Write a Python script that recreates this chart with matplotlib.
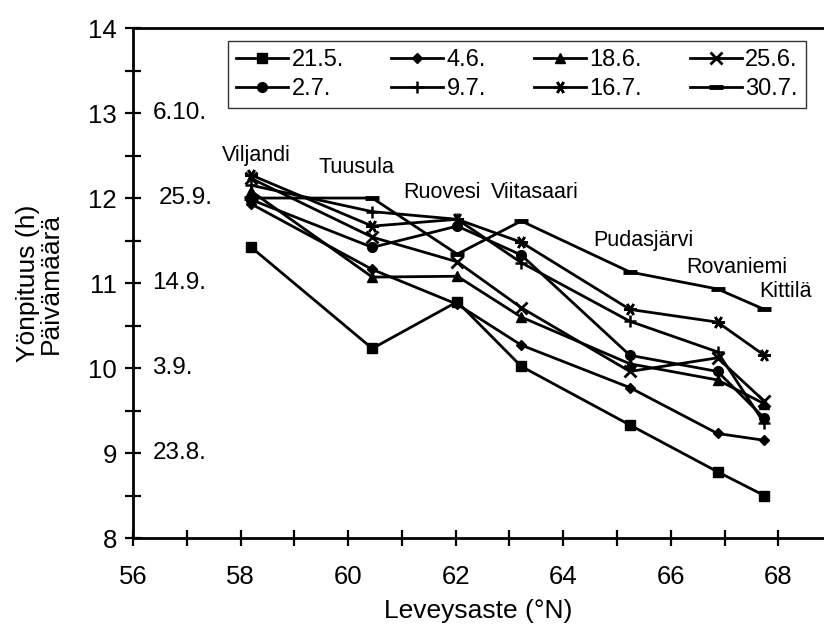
import numpy as np
import matplotlib.pyplot as plt
from matplotlib.ticker import MultipleLocator

plt.rcParams['font.family'] = ['Liberation Sans', 'DejaVu Sans']

# leveysasteet (asemat)
lat = [58.2, 60.45, 62.03, 63.22, 65.24, 66.87, 67.74]
stations = ['Viljandi', 'Tuusula', 'Ruovesi', 'Viitasaari', 'Pudasjärvi', 'Rovaniemi', 'Kittilä']

# yönpituus (h) eri päivinä
d21_5 = [11.42, 10.23, 10.78, 10.02, 9.33, 8.78, 8.50]
d4_6 = [11.93, 11.16, 10.75, 10.27, 9.77, 9.23, 9.15]
d18_6 = [12.08, 11.07, 11.08, 10.60, 10.05, 9.86, 9.58]
d25_6 = [12.23, 11.54, 11.25, 10.71, 9.96, 10.12, 9.61]
d2_7 = [11.98, 11.42, 11.67, 11.33, 10.15, 9.96, 9.41]
d9_7 = [12.15, 11.84, 11.75, 11.24, 10.55, 10.19, 9.35]
d16_7 = [12.27, 11.67, 11.75, 11.48, 10.69, 10.54, 10.15]
d30_7 = [12.00, 12.00, 11.34, 11.73, 11.13, 10.93, 10.69]

date_ticks = [13, 12, 11, 10, 9]
date_labels = ['6.10.', '25.9.', '14.9.', '3.9.', '23.8.']

series = [
    ('21.5.', d21_5, dict(marker='s', ms=7)),
    ('4.6.', d4_6, dict(marker='D', ms=5)),
    ('18.6.', d18_6, dict(marker='^', ms=7)),
    ('25.6.', d25_6, dict(marker='x', ms=8, mew=2)),
    ('2.7.', d2_7, dict(marker='o', ms=7)),
    ('9.7.', d9_7, dict(marker='+', ms=9, mew=1.8)),
    ('16.7.', d16_7, dict(marker=(6, 2, 90), ms=9, mew=1.8)),
    ('30.7.', d30_7, dict(marker='_', ms=10, mew=3.5)),
]

fig = plt.figure(figsize=(8.24, 6.33), dpi=100)
ax = fig.add_axes([0.1614, 0.150, 0.8386, 0.8057])

lines = []
for name, vals, style in series:
    ln, = ax.plot(lat, vals, color='black', lw=2, label=name, **style)
    lines.append(ln)

ax.set_xlim(56, 68.85)
ax.set_ylim(8, 14)
ax.xaxis.set_major_locator(MultipleLocator(2))
ax.xaxis.set_minor_locator(MultipleLocator(1))
ax.yaxis.set_major_locator(MultipleLocator(1))
ax.yaxis.set_minor_locator(MultipleLocator(0.5))
ax.tick_params(which='both', direction='inout', length=11, width=1.6, labelsize=18.5)
ax.tick_params(axis='x', pad=14)
ax.tick_params(axis='y', pad=6)
ax.spines['right'].set_visible(False)
for s in ['left', 'bottom', 'top']:
    ax.spines[s].set_linewidth(2)

ax.set_xlabel('Leveysaste (°N)', fontsize=19, labelpad=7)
ax.set_ylabel('Yönpituus (h)\nPäivämäärä', fontsize=19, labelpad=18, linespacing=0.95)

for y, lab in zip(date_ticks, date_labels):
    xoff = 56.48 if lab == '25.9.' else 56.36
    ax.text(xoff, y, lab, fontsize=17.5, va='center', ha='left')

label_pos = [(57.66, 12.5), (59.45, 12.36), (61.03, 12.06), (62.65, 12.06),
             (64.55, 11.5), (66.28, 11.18), (67.64, 10.9)]
for (x, y), st in zip(label_pos, stations):
    ax.text(x, y, st, fontsize=15.5, va='center', ha='left')

# legend filled row by row
order = [0, 4, 1, 5, 2, 6, 3, 7]
leg = ax.legend([lines[i] for i in order], [series[i][0] for i in order],
                ncol=4, loc='upper left', bbox_to_anchor=(0.137, 0.975, 0.837, 0.0),
                mode='expand', fontsize=17, frameon=True, fancybox=False,
                edgecolor='black', handlelength=2.2, handletextpad=0.15,
                borderaxespad=0, labelspacing=0.3, borderpad=0.35)
leg.get_frame().set_linewidth(1.0)

fig.savefig('out.png', dpi=100)
